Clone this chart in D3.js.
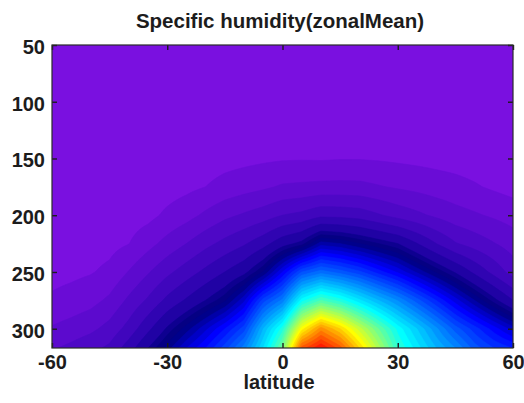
<!DOCTYPE html>
<html>
<head>
<meta charset="utf-8">
<script src="https://cdn.jsdelivr.net/npm/d3@7"></script>
<style>
  body { margin: 0; background: #fff; }
  svg { display: block; }
  text { font-family: "Liberation Sans", Arial, Helvetica, sans-serif; font-weight: bold; fill: #1c1c1c; }
</style>
</head>
<body>
<svg id="chart" width="524" height="403"></svg>
<script>
// Zonal-mean specific humidity (g/kg) on a latitude / pressure grid.
const latitudes = [-60, -55, -50, -45, -40, -35, -30, -25, -20, -15, -10, -5, 0,
                   5, 10, 15, 20, 25, 30, 35, 40, 45, 50, 55, 60];
const pressureLevels = [50, 100, 125, 150, 175, 200, 225, 250, 275, 300, 317];

// One row per pressure level, one value per latitude.
const humidity = [
  [0.001,0.001,0.001,0.001,0.001,0.001,0.001,0.001,0.001,0.001,0.001,0.002,0.002,0.002,0.002,0.002,0.002,0.002,0.002,0.001,0.001,0.001,0.001,0.001,0.001],
  [0.002,0.002,0.002,0.002,0.003,0.003,0.004,0.005,0.006,0.008,0.009,0.010,0.011,0.011,0.011,0.011,0.011,0.011,0.010,0.009,0.008,0.007,0.006,0.005,0.004],
  [0.003,0.003,0.004,0.004,0.005,0.006,0.007,0.009,0.011,0.014,0.016,0.018,0.020,0.021,0.020,0.021,0.021,0.020,0.018,0.016,0.015,0.013,0.011,0.009,0.007],
  [0.005,0.006,0.007,0.008,0.009,0.011,0.013,0.016,0.020,0.025,0.029,0.033,0.036,0.037,0.036,0.038,0.038,0.036,0.033,0.030,0.027,0.024,0.020,0.016,0.012],
  [0.008,0.009,0.010,0.011,0.013,0.017,0.022,0.030,0.040,0.054,0.064,0.073,0.085,0.088,0.091,0.092,0.091,0.083,0.075,0.068,0.060,0.053,0.044,0.034,0.025],
  [0.012,0.013,0.015,0.017,0.022,0.028,0.048,0.065,0.088,0.110,0.125,0.140,0.160,0.170,0.190,0.188,0.182,0.164,0.145,0.129,0.112,0.096,0.085,0.074,0.063],
  [0.018,0.020,0.023,0.028,0.039,0.066,0.094,0.120,0.148,0.172,0.195,0.225,0.265,0.290,0.350,0.340,0.320,0.300,0.280,0.241,0.200,0.163,0.142,0.122,0.101],
  [0.027,0.031,0.037,0.049,0.082,0.116,0.150,0.180,0.210,0.240,0.270,0.320,0.400,0.480,0.510,0.490,0.465,0.430,0.396,0.356,0.316,0.276,0.231,0.187,0.142],
  [0.046,0.055,0.066,0.088,0.128,0.166,0.210,0.245,0.280,0.315,0.375,0.470,0.525,0.650,0.700,0.670,0.625,0.580,0.538,0.489,0.440,0.390,0.340,0.290,0.240],
  [0.084,0.096,0.110,0.134,0.175,0.230,0.285,0.330,0.375,0.420,0.470,0.580,0.670,0.830,0.910,0.860,0.790,0.720,0.653,0.600,0.545,0.490,0.450,0.410,0.370],
  [0.115,0.130,0.148,0.168,0.220,0.280,0.330,0.380,0.420,0.470,0.530,0.620,0.730,0.950,1.000,0.950,0.860,0.770,0.680,0.630,0.580,0.540,0.490,0.460,0.440]
];

const xTicks = [-60, -30, 0, 30, 60];
const yTicks = [50, 100, 150, 200, 250, 300];
const titleText = "Specific humidity(zonalMean)";
const xLabel = "latitude";

// Contour levels: coarse steps in the dry range, finer steps in the moist core.
const levels = d3.range(0, 0.29, 0.04).concat(d3.range(0.30, 1.0, 0.02));

// Colour ramp: violet -> navy, then a jet-like blue -> cyan -> yellow -> red.
const colour = d3.scaleLinear()
  .domain([0, 0.04, 0.08, 0.12, 0.16, 0.20, 0.24, 0.28, 0.31, 0.40, 0.52, 0.64, 0.73, 0.82, 0.91, 1.0])
  .range(["#7a10e0", "#6a0cd6", "#5c0ace", "#4e08c6", "#4006bd", "#3004b2", "#2002a4", "#0e0090",
          "#00007c", "#0000ff", "#0080ff", "#00ffff", "#80ff80", "#ffff00", "#ff8000", "#ff0000"])
  .interpolate(d3.interpolateRgb)
  .clamp(true);

const W = 524, H = 403;
const margin = { left: 52, right: 11, top: 45, bottom: 55 };
const plotW = W - margin.left - margin.right;
const plotH = H - margin.top - margin.bottom;

const x = d3.scaleLinear().domain([-60, 60]).range([0, plotW]);
const y = d3.scaleLinear().domain([50, 317]).range([0, plotH]);

const svg = d3.select("#chart");
const g = svg.append("g").attr("transform", `translate(${margin.left},${margin.top})`);

g.append("defs").append("clipPath").attr("id", "plotClip")
  .append("rect").attr("width", plotW).attr("height", plotH);

// Bilinear lookup in the latitude / pressure table.
function lookup(lat, p) {
  let i = d3.bisectRight(latitudes, lat) - 1;
  i = Math.max(0, Math.min(latitudes.length - 2, i));
  let j = d3.bisectRight(pressureLevels, p) - 1;
  j = Math.max(0, Math.min(pressureLevels.length - 2, j));
  const fx = (lat - latitudes[i]) / (latitudes[i + 1] - latitudes[i]);
  const fy = (p - pressureLevels[j]) / (pressureLevels[j + 1] - pressureLevels[j]);
  const r0 = humidity[j], r1 = humidity[j + 1];
  return (1 - fy) * ((1 - fx) * r0[i] + fx * r0[i + 1]) + fy * ((1 - fx) * r1[i] + fx * r1[i + 1]);
}

// Rendering raster sampled from the table at roughly one cell per pixel.
const nx = Math.round(plotW) + 1, ny = Math.round(plotH) + 1;
const latAt = i => -60 + i * 120 / (nx - 1);
const pAt = j => 50 + j * (317 - 50) / (ny - 1);
const grid = new Float64Array(nx * ny);
for (let j = 0; j < ny; j++) {
  for (let i = 0; i < nx; i++) grid[j * nx + i] = lookup(latAt(i), pAt(j));
}

const bands = d3.contours().size([nx, ny]).thresholds(levels)(grid);
const clampIdx = (v, n) => Math.max(0, Math.min(n - 1, v));
const toPlot = d3.geoTransform({
  point: function (cx, cy) {
    this.stream.point(x(latAt(clampIdx(cx - 0.5, nx))), y(pAt(clampIdx(cy - 0.5, ny))));
  }
});
const path = d3.geoPath(toPlot);

g.append("g").attr("clip-path", "url(#plotClip)")
  .selectAll("path").data(bands).join("path")
  .attr("d", path)
  .attr("fill", d => colour(d.value))
  .attr("stroke", d => colour(d.value))
  .attr("stroke-width", 0.6);

// Axes with inward ticks on all four sides.
const fmt = d => String(d);
const axisStyle = sel => {
  sel.select(".domain").remove();
  sel.selectAll(".tick line").attr("stroke", "#1c1c1c").attr("stroke-width", 1.4);
  sel.selectAll(".tick text").attr("font-size", 20).attr("fill", "#1c1c1c")
    .attr("font-family", '"Liberation Sans", Arial, sans-serif').attr("font-weight", "bold");
};

g.append("g").attr("transform", `translate(0,${plotH})`)
  .call(d3.axisBottom(x).tickValues(xTicks).tickFormat(fmt).tickSizeInner(-5).tickSizeOuter(0).tickPadding(7))
  .call(axisStyle);
g.append("g")
  .call(d3.axisTop(x).tickValues(xTicks).tickFormat("").tickSizeInner(-5).tickSizeOuter(0))
  .call(axisStyle);
g.append("g")
  .call(d3.axisLeft(y).tickValues(yTicks).tickFormat(fmt).tickSizeInner(-5).tickSizeOuter(0).tickPadding(7))
  .call(axisStyle)
  .selectAll(".tick text").attr("dy", "0.42em");
g.append("g").attr("transform", `translate(${plotW},0)`)
  .call(d3.axisRight(y).tickValues(yTicks).tickFormat("").tickSizeInner(-5).tickSizeOuter(0))
  .call(axisStyle);

// Frame
g.append("rect").attr("width", plotW).attr("height", plotH)
  .attr("fill", "none").attr("stroke", "#2a2a2a").attr("stroke-width", 1.2);

// Title and axis label
svg.append("text").attr("x", 280).attr("y", 28)
  .attr("text-anchor", "middle").attr("font-size", 20.5).text(titleText);
svg.append("text").attr("x", 279).attr("y", 389)
  .attr("text-anchor", "middle").attr("font-size", 20).text(xLabel);
</script>
</body>
</html>
